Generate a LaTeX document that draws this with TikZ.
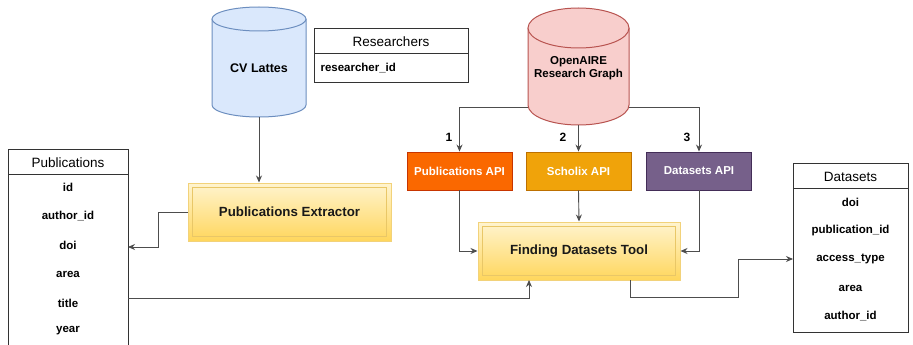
\documentclass[tikz,border=0pt]{standalone}
\usepackage{fontspec}
\setmainfont{Liberation Sans}
\usetikzlibrary{arrows.meta}
\definecolor{cvfill}{HTML}{DAE8FC}
\definecolor{cvline}{HTML}{6C8EBF}
\definecolor{oafill}{HTML}{F8CECC}
\definecolor{oaline}{HTML}{B85450}
\definecolor{pafill}{HTML}{FA6800}
\definecolor{paline}{HTML}{C73500}
\definecolor{scfill}{HTML}{F0A30A}
\definecolor{scline}{HTML}{BD7000}
\definecolor{dafill}{HTML}{76608A}
\definecolor{daline}{HTML}{432D57}
\definecolor{ytop}{HTML}{FFF4CF}
\definecolor{ybot}{HTML}{FFD65C}
\definecolor{yline}{HTML}{F2D27A}
\definecolor{yinner}{HTML}{E9C767}
\definecolor{conn}{HTML}{4D4D4D}
\definecolor{tabline}{HTML}{333333}
\tikzset{
  conline/.style={draw=conn, line width=0.9pt},
  arr/.style={conline, -{Stealth[length=7pt,width=6pt]}},
  tabbox/.style={draw=tabline, line width=0.9pt},
  hdr/.style={font=\fontsize{13.5}{15}\selectfont},
  rowtxt/.style={font=\bfseries\fontsize{11.5}{13}\selectfont},
  apibox/.style={minimum width=105pt, minimum height=38pt, inner sep=0pt, line width=0.9pt, text=white, font=\bfseries\fontsize{11.5}{13}\selectfont},
  ybox/.style={draw=yline, line width=1pt, top color=ytop, bottom color=ybot, inner sep=0pt, font=\bfseries\fontsize{13.3}{15}\selectfont, text=black!90},
  yinnerline/.style={draw=yinner, line width=0.6pt},
  numlbl/.style={font=\bfseries\fontsize{12}{14}\selectfont},
  cyltxt/.style={font=\bfseries\fontsize{11.5}{13.5}\selectfont, align=center}
}
\begin{document}
\begin{tikzpicture}[x=1pt,y=-1pt]
\clip (0,0) rectangle (913,345);
\fill[white] (0,0) rectangle (913,345);

% CV Lattes cylinder
\filldraw[fill=cvfill, draw=cvline, line width=1pt] (212,19) -- (212,105) arc[start angle=180,end angle=360,x radius=47pt,y radius=12pt] -- (306,19);
\filldraw[fill=cvfill, draw=cvline, line width=1pt] (259,19) ellipse [x radius=47pt, y radius=12pt];
\node[cyltxt, font=\bfseries\fontsize{12.5}{14}\selectfont] (cv) at (259,68) {CV Lattes};
\coordinate (cvb) at (259,117);

% Researchers table
\draw[tabbox] (314,28) rectangle (468,82);
\draw[tabbox] (314,53) -- (468,53);
\node[hdr] (reshdr) at (391,42) {Researchers};
\node[rowtxt, anchor=west] (resid) at (317,68) {researcher\_id};

% OpenAIRE cylinder
\filldraw[fill=oafill, draw=oaline, line width=1pt] (528,28) -- (528,105) arc[start angle=180,end angle=360,x radius=50.5pt,y radius=20pt] -- (629,28);
\filldraw[fill=oafill, draw=oaline, line width=1pt] (578.5,28) ellipse [x radius=50.5pt, y radius=20pt];
\node[cyltxt] (oa) at (578.5,68) {OpenAIRE\\Research Graph};
\coordinate (oaL) at (528,107);
\coordinate (oaR) at (629,107);
\coordinate (oaB) at (578.5,125);

% API boxes
\node[apibox, fill=pafill, draw=paline] (pubapi) at (459.5,171) {Publications API};
\node[apibox, fill=scfill, draw=scline] (schapi) at (578.5,171) {Scholix API};
\node[apibox, fill=dafill, draw=daline] (datapi) at (699,171) {Datasets API};

\draw[arr] (oaL) -| (pubapi.north);
\draw[arr] (oaB) -- (schapi.north);
\draw[arr] (oaR) -| (datapi.north);
\node[numlbl] (n1) at (449,137) {1};
\node[numlbl] (n2) at (563,137) {2};
\node[numlbl] (n3) at (687,137) {3};

% Publications Extractor
\node[ybox, minimum width=203pt, minimum height=58pt] (ext) at (289.5,212) {Publications Extractor};
\draw[yinnerline] ([shift={(5pt,-5pt)}]ext.north west) rectangle ([shift={(-5pt,5pt)}]ext.south east);

% Finding Datasets Tool
\node[ybox, minimum width=202pt, minimum height=58pt] (tool) at (579,251) {Finding Datasets Tool};
\draw[yinnerline] ([shift={(5pt,-5pt)}]tool.north west) rectangle ([shift={(-5pt,5pt)}]tool.south east);

% Publications table
\draw[tabbox] (8,349) -- (8,149) -- (128,149) -- (128,349);
\draw[tabbox] (8,174) -- (128,174);
\node[hdr] (pubhdr) at (68,163) {Publications};
\node[rowtxt] (p1) at (68,187) {id};
\node[rowtxt] (p2) at (68,216) {author\_id};
\node[rowtxt] (p3) at (68,245) {doi};
\node[rowtxt] (p4) at (68,274) {area};
\node[rowtxt] (p5) at (68,303) {title};
\node[rowtxt] (p6) at (68,331) {year};
\coordinate (pubR1) at (128,247);
\coordinate (pubR2) at (128,298);

% Datasets table
\draw[tabbox] (793,163) rectangle (908,332);
\draw[tabbox] (793,188) -- (908,188);
\node[hdr] (dshdr) at (850.5,177) {Datasets};
\node[rowtxt] (d1) at (850.5,202) {doi};
\node[rowtxt] (d2) at (850.5,231) {publication\_id};
\node[rowtxt] (d3) at (850.5,259) {access\_type};
\node[rowtxt] (d4) at (850.5,288) {area};
\node[rowtxt] (d5) at (850.5,316) {author\_id};
\coordinate (dsL) at (793,259);

% connectors
\draw[arr] (cvb) -- (cvb |- ext.north);
\draw[arr] (ext.west) -- (158,212) -- (158,247) -- (pubR1);
\draw[arr] (pubapi.south) -- (459.5,251) -- (tool.west);
\draw[arr] (schapi.south) -- (tool.north);
\draw[arr] (datapi.south) -- (699,251) -- (tool.east);
\draw[arr] (pubR2) -- (529,298) -- (529,280);
\draw[arr] (630,280) -- (630,297) -- (738,297) -- (738,259) -- (dsL);
\end{tikzpicture}
\end{document}
